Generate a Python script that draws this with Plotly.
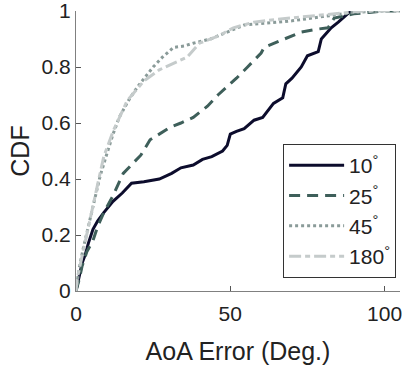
import plotly.graph_objects as go

# CDF curves of AoA error
err_10 = [0, 1, 2, 3, 4, 5.5, 7, 9, 12, 15, 18, 22, 27, 31, 34, 38, 41, 44, 47.5, 49, 50, 52, 54.5, 57.7, 60.5, 64, 67, 68, 70, 73, 75, 78.5, 79.5, 82.7, 85, 88, 89]
cdf_10 = [0, 0.05, 0.1, 0.13, 0.17, 0.22, 0.25, 0.28, 0.32, 0.35, 0.385, 0.39, 0.40, 0.42, 0.44, 0.45, 0.47, 0.48, 0.50, 0.52, 0.56, 0.57, 0.58, 0.61, 0.62, 0.67, 0.69, 0.74, 0.76, 0.80, 0.84, 0.855, 0.90, 0.94, 0.96, 0.99, 1.0]

err_25 = [0, 1, 2, 3.5, 5.5, 7, 9, 12, 15.3, 18, 21, 24, 27, 30.6, 34, 38, 42.6, 46, 49, 52, 55.6, 60, 61, 65.5, 70, 73, 78, 81.7, 83.7, 90, 95, 100, 105]
cdf_25 = [0, 0.04, 0.09, 0.14, 0.18, 0.23, 0.28, 0.34, 0.42, 0.45, 0.485, 0.54, 0.56, 0.585, 0.60, 0.62, 0.66, 0.70, 0.73, 0.76, 0.80, 0.85, 0.87, 0.89, 0.91, 0.925, 0.935, 0.94, 0.975, 0.99, 0.995, 1.0, 1.0]

err_45 = [0, 1, 2.3, 4, 5.5, 7.8, 10, 12, 14, 17, 20, 25, 28, 31.6, 35, 38, 43.6, 49, 54.5, 60, 70, 80, 90, 100, 105]
cdf_45 = [0, 0.08, 0.15, 0.23, 0.30, 0.41, 0.49, 0.56, 0.62, 0.68, 0.73, 0.80, 0.835, 0.87, 0.875, 0.885, 0.90, 0.925, 0.95, 0.955, 0.965, 0.98, 0.995, 1.0, 1.0]

err_180 = [0, 0.5, 1.3, 3, 5, 7, 9, 12, 16.6, 22, 27, 31, 36, 40, 46, 51, 57.6, 65, 75, 85, 93, 100, 105]
cdf_180 = [0, 0.05, 0.09, 0.18, 0.28, 0.38, 0.48, 0.57, 0.68, 0.75, 0.79, 0.81, 0.835, 0.885, 0.91, 0.94, 0.96, 0.97, 0.98, 0.99, 1.0, 1.0, 1.0]

series = [
    ("10<sup>°</sup>", err_10, cdf_10, "#0c0c2c", "solid"),
    ("25<sup>°</sup>", err_25, cdf_25, "#3e5f5a", "11px,7px"),
    ("45<sup>°</sup>", err_45, cdf_45, "#8a9b99", "dot"),
    ("180<sup>°</sup>", err_180, cdf_180, "#c5cbcb", "12px,4px,5px,4px"),
]

fig = go.Figure()
for name, xs, ys, color, dash in series:
    fig.add_trace(
        go.Scatter(
            x=xs,
            y=ys,
            mode="lines",
            name=name,
            line=dict(color=color, width=3, dash=dash),
        )
    )

fig.update_layout(
    width=407,
    height=370,
    margin=dict(l=76, r=7, t=11, b=79, autoexpand=False),
    paper_bgcolor="white",
    plot_bgcolor="white",
    font=dict(family="Liberation Sans, Arial, sans-serif", size=21, color="#222222"),
    legend=dict(
        x=0.988,
        y=0.046,
        xanchor="right",
        yanchor="bottom",
        bordercolor="#333333",
        borderwidth=1,
        bgcolor="white",
        font=dict(size=21),
        tracegroupgap=0,
        itemwidth=55,
    ),
)
fig.update_xaxes(
    range=[0, 105],
    tickvals=[0, 50, 100],
    ticks="inside",
    ticklen=5,
    tickcolor="#555555",
    ticklabelstandoff=4,
    ticklabeloverflow="allow",
    showline=True,
    linecolor="#808080",
    showgrid=False,
    zeroline=False,
    automargin=False,
    title=dict(text="AoA Error (Deg.)", standoff=18),
)
fig.update_yaxes(
    range=[0, 1],
    tickvals=[0, 0.2, 0.4, 0.6, 0.8, 1],
    ticktext=["0", "0.2", "0.4", "0.6", "0.8", "1"],
    ticks="inside",
    ticklen=5,
    tickcolor="#555555",
    ticklabeloverflow="allow",
    showline=True,
    linecolor="#808080",
    showgrid=False,
    zeroline=False,
    automargin=False,
    title=dict(text="CDF", standoff=4),
)

# drop the default 8px body margin so the figure sits at the page corner
fig.write_html(
    "out.html",
    config={"displayModeBar": False},
    post_script="document.body.style.margin='0px';",
)
